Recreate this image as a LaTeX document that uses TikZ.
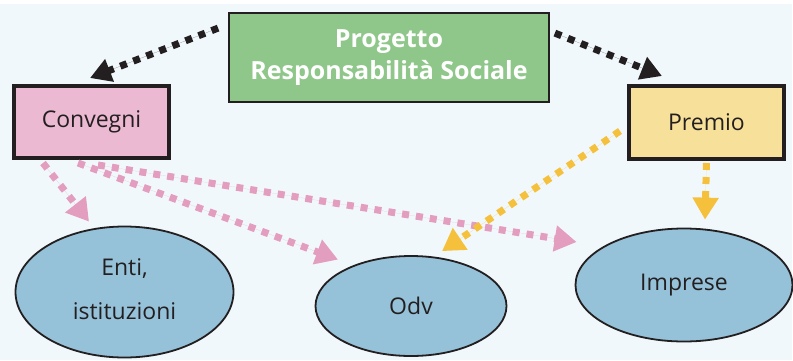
\documentclass[tikz,border=0pt]{standalone}
\usepackage{fontspec}
\setmainfont{Open Sans}
\usetikzlibrary{arrows.meta,calc,shapes.geometric}
\definecolor{bg}{HTML}{F1F8FB}
\definecolor{boxgreen}{HTML}{8FC78A}
\definecolor{boxpink}{HTML}{EBB9D1}
\definecolor{boxyellow}{HTML}{F7E09A}
\definecolor{ellblue}{HTML}{95C2D9}
\definecolor{arrpink}{HTML}{E39DBF}
\definecolor{arryellow}{HTML}{F5C13C}
\definecolor{ink}{HTML}{231F20}
\begin{document}
\begin{tikzpicture}[x=1pt,y=-1pt,
  txt/.style={font=\fontsize{23}{26}\selectfont, text=ink},
  box/.style={draw=ink, rectangle, inner sep=0pt, txt},
  ell/.style={draw=ink, ellipse, fill=ellblue, line width=1.8pt, inner sep=0pt, txt, align=center},
  dotarrow/.style={line width=7pt, dash pattern=on 7pt off 7pt, line cap=butt,
     -{Triangle[length=22pt,width=25pt]}},
  blackarrow/.style={dotarrow, draw=ink, fill=ink, -{Triangle[length=21pt,width=23pt]}},
  pinkarrow/.style={dotarrow, draw=arrpink, fill=arrpink},
  yellowarrow/.style={dotarrow, draw=arryellow, fill=arryellow}
]
\useasboundingbox (0,0) rectangle (793,360);
\fill[bg] (0,4) rectangle (792,360);

\node[box, fill=boxgreen, line width=1.8pt, minimum width=320pt, minimum height=89pt,
      text=white, font=\fontsize{25}{32}\selectfont\bfseries, align=center]
  (green) at (389,57.5) {Progetto\\Responsabilità Sociale};
\node[box, fill=boxpink, line width=4pt, minimum width=155pt, minimum height=72pt]
  (conv) at (91.5,122) {Convegni};
\node[box, fill=boxyellow, line width=4pt, minimum width=155pt, minimum height=73pt]
  (prem) at (706.5,122.5) {Premio};

\node[ell, minimum width=218pt, minimum height=131pt] (enti) at (124.5,292)
  {\begin{tabular}{@{}c@{}}Enti,\\[18pt]istituzioni\end{tabular}};
\node[ell, minimum width=191pt, minimum height=100pt] (odv) at (411,306) {Odv};
\node[ell, minimum width=217pt, minimum height=113pt] (imp) at (684,285) {Imprese};

% black arrows from the project box
\draw[blackarrow] ($(green.north west)+(-10,16)$) -- ($(conv.north)+(-1.5,-6)$);
\draw[blackarrow] ($(green.north east)+(5,21)$) -- ($(prem.north)+(-44.5,-8)$);

% pink arrows from Convegni
\draw[pinkarrow] ($(conv.south west)+(31,3)$) -- ($(enti.north)+(-35.5,-4)$);
\draw[pinkarrow] ($(conv.south west)+(66,3)$) -- ($(odv.north)+(-73,4.5)$);
\draw[pinkarrow] ($(conv.south west)+(86,5)$) -- ($(imp.west)+(2,-43)$);

% yellow arrows from Premio
\draw[yellowarrow] ($(prem.west)+(-7,8.5)$) -- ($(odv.north)+(31,-4)$);
\draw[yellowarrow] ($(prem.south)+(0,2)$) -- ($(imp.north)+(21,-8)$);
\end{tikzpicture}
\end{document}
